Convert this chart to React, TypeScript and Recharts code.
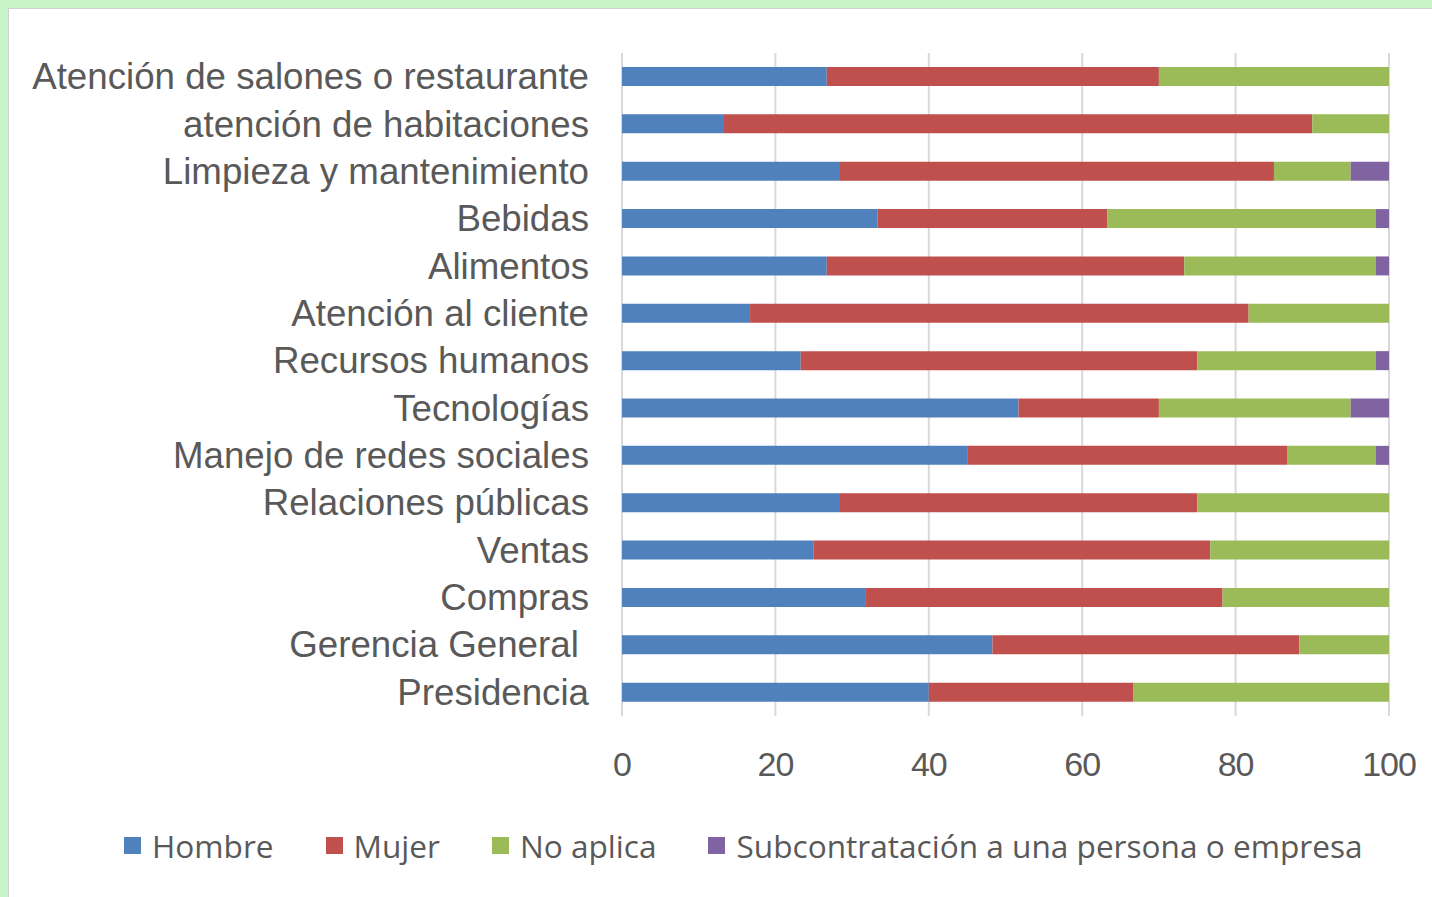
import { Bar, BarChart, CartesianGrid, Legend, XAxis, YAxis } from "recharts";

const categories = [
  "Atención de salones o restaurante",
  "atención de habitaciones",
  "Limpieza y mantenimiento",
  "Bebidas",
  "Alimentos",
  "Atención al cliente",
  "Recursos humanos",
  "Tecnologías",
  "Manejo de redes sociales",
  "Relaciones públicas",
  "Ventas",
  "Compras",
  "Gerencia General ",
  "Presidencia",
];

const hombre = [26.7, 13.3, 28.3, 33.3, 26.7, 16.7, 23.3, 51.7, 45, 28.3, 25, 31.7, 48.3, 40];
const mujer = [43.3, 76.7, 56.7, 30, 46.6, 65, 51.7, 18.3, 41.7, 46.7, 51.7, 46.6, 40, 26.7];
const noAplica = [30, 10, 10, 35, 25, 18.3, 23.3, 25, 11.6, 25, 23.3, 21.7, 11.7, 33.3];
const subcontratacion = [0, 0, 5, 1.7, 1.7, 0, 1.7, 5, 1.7, 0, 0, 0, 0, 0];

const xTicks = [0, 20, 40, 60, 80, 100];

const series = [
  { key: "hombre", name: "Hombre", color: "#4f81bd" },
  { key: "mujer", name: "Mujer", color: "#c0504d" },
  { key: "noAplica", name: "No aplica", color: "#9bbb59" },
  { key: "sub", name: "Subcontratación a una persona o empresa", color: "#8064a2" },
];

const data = categories.map((name, i) => ({
  name,
  hombre: hombre[i],
  mujer: mujer[i],
  noAplica: noAplica[i],
  sub: subcontratacion[i],
}));

const textColor = "#595959";

function CategoryTick({ x, y, payload }: any) {
  return (
    <text
      x={x}
      y={y}
      dx={-25}
      textAnchor="end"
      dominantBaseline="central"
      fill={textColor}
      fontSize={36.7}
      fontFamily="'Liberation Sans', Arial, sans-serif"
      style={{ whiteSpace: "pre" }}
    >
      {payload.value}
    </text>
  );
}

function ValueTick({ x, y, payload }: any) {
  return (
    <text
      x={x}
      y={y}
      dy={40}
      textAnchor="middle"
      dominantBaseline="central"
      fill={textColor}
      fontSize={34}
      letterSpacing={-1}
      fontFamily="'Liberation Sans', sans-serif"
    >
      {payload.value}
    </text>
  );
}

function LegendContent() {
  return (
    <div style={{ display: "flex", alignItems: "center", height: 50, paddingLeft: 115 }}>
      {series.map((s) => (
        <div key={s.key} style={{ display: "flex", alignItems: "center", marginRight: 52 }}>
          <span style={{ width: 17, height: 17, background: s.color, marginRight: 11 }} />
          <span
            style={{
              fontFamily: "'Open Sans', sans-serif",
              fontSize: 31.6,
              color: textColor,
              whiteSpace: "nowrap",
            }}
          >
            {s.name}
          </span>
        </div>
      ))}
    </div>
  );
}

export default function App() {
  return (
    <div
      style={{
        position: "absolute",
        left: 0,
        top: 0,
        width: 1432,
        height: 897,
        background: "#c8f2c8",
      }}
    >
      <div
        style={{
          position: "absolute",
          left: 8,
          top: 8,
          width: 1424,
          height: 889,
          background: "#ffffff",
          borderLeft: "1px solid #d0d0d0",
          borderTop: "1px solid #d0d0d0",
        }}
      >
        <BarChart
          width={1424}
          height={889}
          data={data}
          layout="vertical"
          margin={{ top: 44, right: 44, bottom: 28, left: 0 }}
          barSize={19}
        >
          <CartesianGrid horizontal={false} stroke="#d9d9d9" strokeWidth={2} />
          <XAxis
            type="number"
            domain={[0, 100]}
            ticks={xTicks}
            axisLine={false}
            tickLine={false}
            height={104}
            tick={<ValueTick />}
            interval={0}
          />
          <YAxis
            type="category"
            dataKey="name"
            width={613}
            axisLine={false}
            tickLine={false}
            tick={<CategoryTick />}
            interval={0}
          />
          <Legend verticalAlign="bottom" content={<LegendContent />} height={50} />
          {series.map((s) => (
            <Bar
              key={s.key}
              dataKey={s.key}
              name={s.name}
              stackId="a"
              fill={s.color}
              isAnimationActive={false}
            />
          ))}
        </BarChart>
      </div>
    </div>
  );
}
